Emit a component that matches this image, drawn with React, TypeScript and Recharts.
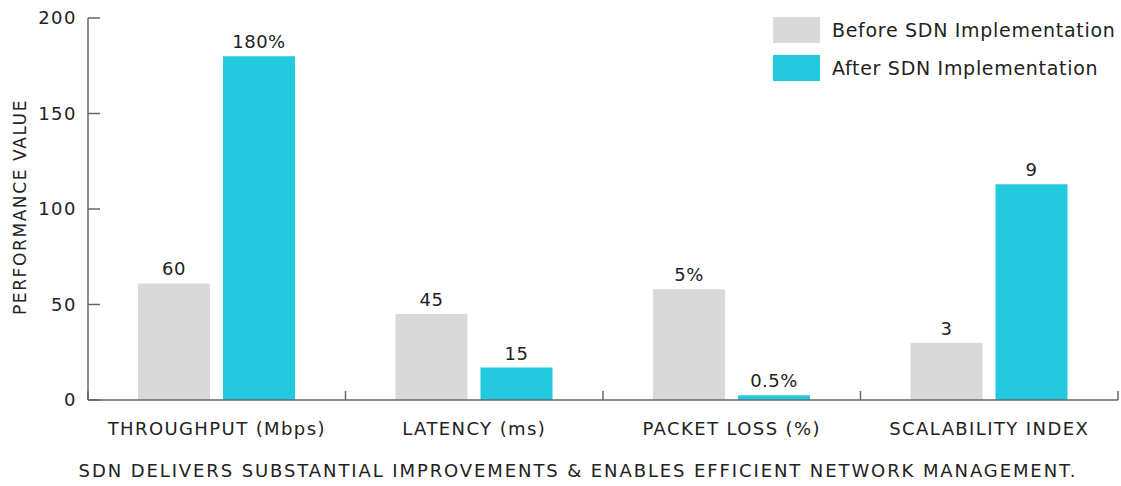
import React from 'react';
import { BarChart, Bar, XAxis, YAxis, Legend, LabelList } from 'recharts';

const categories = ['THROUGHPUT (Mbps)', 'LATENCY (ms)', 'PACKET LOSS (%)', 'SCALABILITY INDEX'];
const beforeValues = [61, 45, 58, 30];
const afterValues = [180, 17, 2.5, 113];
const beforeLabels = ['60', '45', '5%', '3'];
const afterLabels = ['180%', '15', '0.5%', '9'];
const yTicks = [0, 50, 100, 150, 200];
const seriesNames = ['Before SDN Implementation', 'After SDN Implementation'];
const caption = 'SDN DELIVERS SUBSTANTIAL IMPROVEMENTS & ENABLES EFFICIENT NETWORK MANAGEMENT.';

const data = categories.map((name, i) => ({
  name,
  before: beforeValues[i],
  after: afterValues[i],
  beforeLabel: beforeLabels[i],
  afterLabel: afterLabels[i],
}));

const FONT = '"DejaVu Sans", sans-serif';
const GRAY = '#d9d9d9';
const CYAN = '#22c9df';
const AXIS = '#666666';
const TEXT = '#222222';

const W = 1121;
const H = 486;
const M = { top: 18, right: 3, left: 28, bottom: 6 };
const Y_W = 60;
const PLOT_W = W - M.left - M.right - Y_W;
const BAND = PLOT_W / categories.length;

const XTick = (props: any) => {
  const { x, y, payload, index } = props;
  const axisY = y;
  return (
    <g>
      <line x1={x + BAND / 2} x2={x + BAND / 2} y1={axisY} y2={axisY - 9} stroke={AXIS} strokeWidth={1.5} />
      {index === 0 && (
        <line x1={x - BAND / 2} x2={x - BAND / 2} y1={axisY} y2={axisY - 9} stroke={AXIS} strokeWidth={1.5} />
      )}
      <text x={x} y={axisY + 28} textAnchor="middle" dominantBaseline="central" fill={TEXT} fontSize={18} letterSpacing={1.4} fontFamily={FONT}>
        {payload.value}
      </text>
    </g>
  );
};

const YLabel = (props: any) => {
  const vb = props.viewBox || {};
  const cx = 20;
  const cy = (vb.y ?? 18) + (vb.height ?? 382) / 2 - 2;
  return (
    <text x={cx} y={cy} transform={`rotate(-90, ${cx}, ${cy})`} textAnchor="middle" dominantBaseline="central" fill={TEXT} fontSize={17} letterSpacing={1.6} fontFamily={FONT}>
      PERFORMANCE VALUE
    </text>
  );
};

const Caption = (props: any) => {
  const vb = props.viewBox || {};
  const y = (vb.y ?? 400) + 70;
  return (
    <text x={578} y={y} textAnchor="middle" dominantBaseline="central" fill={TEXT} fontSize={18} letterSpacing={1.9} fontFamily={FONT}>
      {caption}
    </text>
  );
};

const LegendContent = () => (
  <div style={{ fontFamily: FONT }}>
    {seriesNames.map((n, i) => (
      <div key={n} style={{ display: 'flex', alignItems: 'center', height: 26, marginBottom: i === 0 ? 12 : 0 }}>
        <div style={{ width: 47, height: 26, background: i === 0 ? GRAY : CYAN, marginRight: 12 }} />
        <span style={{ fontSize: 19, letterSpacing: 0.7, color: TEXT, whiteSpace: 'nowrap' }}>{n}</span>
      </div>
    ))}
  </div>
);

export default function App() {
  return (
    <div style={{ position: 'absolute', left: 0, top: 0, width: W, height: H, background: '#fff' }}>
      <BarChart width={W} height={H} data={data} margin={M} barSize={72} barGap={13}>
        <XAxis
          dataKey="name"
          height={80}
          tickLine={false}
          tickSize={0}
          tickMargin={0}
          axisLine={{ stroke: AXIS, strokeWidth: 1.5 }}
          tick={<XTick />}
          interval={0}
          label={<Caption />}
        />
        <YAxis
          width={Y_W}
          domain={[0, 200]}
          ticks={yTicks}
          tickSize={-12}
          tickMargin={23}
          axisLine={{ stroke: AXIS, strokeWidth: 1.5 }}
          tickLine={{ stroke: AXIS, strokeWidth: 1.5 }}
          tick={{ fill: TEXT, fontSize: 18, letterSpacing: 1.5, fontFamily: FONT }}
          label={<YLabel />}
        />
        <Legend
          layout="vertical"
          align="center"
          verticalAlign="middle"
          wrapperStyle={{ left: 773, top: 17, width: 345 }}
          content={<LegendContent />}
        />
        <Bar dataKey="before" name={seriesNames[0]} fill={GRAY} isAnimationActive={false}>
          <LabelList dataKey="beforeLabel" position="top" offset={8} fill={TEXT} fontSize={18} letterSpacing={0.5} fontFamily={FONT} />
        </Bar>
        <Bar dataKey="after" name={seriesNames[1]} fill={CYAN} isAnimationActive={false}>
          <LabelList dataKey="afterLabel" position="top" offset={8} fill={TEXT} fontSize={18} letterSpacing={0.5} fontFamily={FONT} />
        </Bar>
      </BarChart>
    </div>
  );
}
